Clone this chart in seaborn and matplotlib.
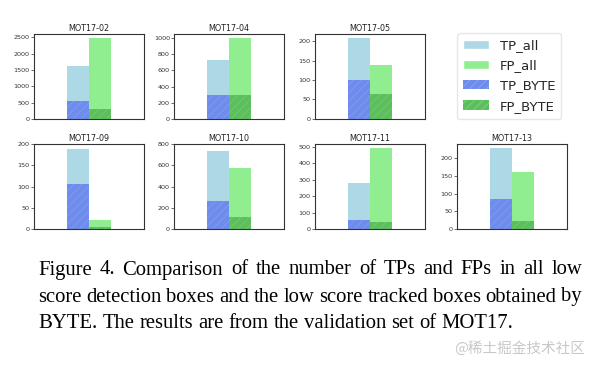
import matplotlib
matplotlib.use('Agg')
import matplotlib.pyplot as plt
import seaborn as sns
from matplotlib.patches import Patch

# --- Data ---
sequences = ['MOT17-02', 'MOT17-04', 'MOT17-05', 'MOT17-09', 'MOT17-10', 'MOT17-11', 'MOT17-13']
tp_all = [1610, 735, 207, 189, 740, 283, 229]
fp_all = [2470, 1000, 139, 22, 577, 492, 162]
tp_byte = [553, 300, 101, 107, 264, 53, 84]
fp_byte = [307, 300, 63, 5, 116, 45, 24]
y_top = [2600, 1050, 218, 200, 800, 516, 240]

bar_kinds = ['TP', 'FP']
caption_lines = [
    'Figure 4.  Comparison of the number of TPs and FPs in all low',
    'score detection boxes and the low score tracked boxes obtained by',
    'BYTE. The results are from the validation set of MOT17.',
]

# --- Style ---
sns.set_style('white')
plt.rcParams['font.family'] = ['DejaVu Sans']
plt.rcParams['hatch.linewidth'] = 0.6

c_tp_all, c_fp_all = '#add8e6', '#90ee90'
c_tp_byte, c_fp_byte = '#6e8ceb', '#5cbe5c'

W, H = 592, 366
fig = plt.figure(figsize=(W / 100, H / 100), dpi=100)

# axes positions (figure fraction): 3 on the top row, 4 on the bottom row
lefts = [0.0574, 0.294, 0.532, 0.0574, 0.294, 0.532, 0.772]
bottoms = [0.675] * 3 + [0.374] * 4
w, h = 0.186, 0.232

for i, name in enumerate(sequences):
    ax = fig.add_axes([lefts[i], bottoms[i], w, h])
    sns.barplot(x=bar_kinds, y=[tp_all[i], fp_all[i]], hue=bar_kinds,
                palette=[c_tp_all, c_fp_all], width=1, dodge=False,
                saturation=1, legend=False, ax=ax, linewidth=0)
    n_before = len(ax.patches)
    sns.barplot(x=bar_kinds, y=[tp_byte[i], fp_byte[i]], hue=bar_kinds,
                palette=[c_tp_byte, c_fp_byte], width=1, dodge=False,
                saturation=1, legend=False, ax=ax, linewidth=0)
    for p, hc in zip(ax.patches[n_before:], ['#809cf2', '#6fcc6f']):
        p.set_hatch('////')
        p.set_edgecolor(hc)
        p.set_linewidth(0)
    ax.set_xlim(-2, 3)
    ax.set_ylim(0, y_top[i])
    ax.set_xticks([])
    ax.set_xlabel('')
    ax.set_ylabel('')
    ax.set_title(name, fontsize=5.8, pad=2, color='#222222')
    ax.tick_params(axis='y', labelsize=4.6, left=True, length=2, width=0.5,
                   pad=1, colors='#333333')
    for s in ax.spines.values():
        s.set_color('#333333')
        s.set_linewidth(0.8)

handles = [
    Patch(facecolor=c_tp_all, label='TP_all'),
    Patch(facecolor=c_fp_all, label='FP_all'),
    Patch(facecolor=c_tp_byte, edgecolor='#8aa6f5', hatch='////', linewidth=0, label='TP_BYTE'),
    Patch(facecolor=c_fp_byte, edgecolor='#7bd67b', hatch='////', linewidth=0, label='FP_BYTE'),
]
fig.legend(handles=handles, loc='upper left', bbox_to_anchor=(457 / W, 1 - 33 / H),
           borderaxespad=0, fontsize=9.5, frameon=True, fancybox=True,
           handlelength=2.0, handleheight=0.7, labelspacing=0.55,
           borderpad=0.45, handletextpad=0.8, edgecolor='#e0e0e0')

# caption, justified like the paper (last line left aligned)
renderer = fig.canvas.get_renderer()
x_left, x_right = 38, 582
cap_font = dict(fontsize=14.85, family='Liberation Serif', color='black')
for k, line in enumerate(caption_lines):
    y = 1 - (270 + 27 * k) / H
    words = line.split()
    texts = [fig.text(0, y, wd, ha='left', va='center', **cap_font) for wd in words]
    widths = [t.get_window_extent(renderer).width for t in texts]
    if k < len(caption_lines) - 1:
        gap = (x_right - x_left - sum(widths)) / (len(words) - 1)
    else:
        sp = fig.text(0, 0, 'a a', **cap_font)
        a = fig.text(0, 0, 'aa', **cap_font)
        gap = sp.get_window_extent(renderer).width - a.get_window_extent(renderer).width
        sp.remove()
        a.remove()
    x = x_left
    for t, wd in zip(texts, widths):
        t.set_x(x / W)
        x += wd + gap

fig.text(585 / W, 1 - 348 / H, '@稀土掘金技术社区', ha='right', va='center',
         fontsize=10.5, color='#c8c8c8', family=['Noto Sans CJK SC', 'DejaVu Sans'])

fig.savefig('out.png', dpi=100)
